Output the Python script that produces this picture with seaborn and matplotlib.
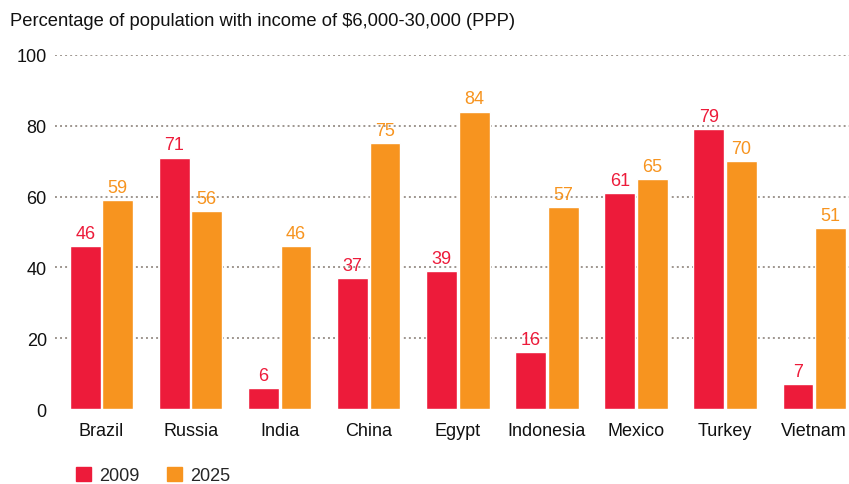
import pandas as pd
import matplotlib.pyplot as plt
import seaborn as sns

countries = ["Brazil", "Russia", "India", "China", "Egypt", "Indonesia", "Mexico", "Turkey", "Vietnam"]
share_2009 = [46, 71, 6, 37, 39, 16, 61, 79, 7]
share_2025 = [59, 56, 46, 75, 84, 57, 65, 70, 51]
years = ["2009", "2025"]
colors = {"2009": "#ED1B3A", "2025": "#F7941F"}

df = pd.DataFrame({
    "country": countries * 2,
    "year": ["2009"] * len(countries) + ["2025"] * len(countries),
    "share": share_2009 + share_2025,
})

sns.set_style("white")
plt.rcParams["font.family"] = ["Liberation Sans", "DejaVu Sans"]

fig = plt.figure(figsize=(8.49, 4.85), dpi=100)
ax = fig.add_axes([0.065, 0.1546, 0.935, 0.73])

sns.barplot(data=df, x="country", y="share", hue="year", hue_order=years,
            palette=colors, width=0.73, gap=0.05, saturation=1, ax=ax, legend=False)

for cont, yr in zip(ax.containers, years):
    ax.bar_label(cont, color=colors[yr], fontsize=13, padding=3)

ax.set_ylim(0, 100)
ax.set_xlim(-0.52, 8.39)
ax.set_yticks([0, 20, 40, 60, 80, 100])
for y in [20, 40, 60, 80, 100]:
    ax.axhline(y, color="#9e968f", linestyle=(0, (1, 1.6)), linewidth=1.4, zorder=0)
for s in ax.spines.values():
    s.set_visible(False)
ax.tick_params(axis="both", length=0, labelsize=13, colors="#111111")
ax.tick_params(axis="y", pad=6)
ax.tick_params(axis="x", pad=9)
ax.set_xlabel(None)
ax.set_ylabel(None)

fig.text(0.012, 0.955, "Percentage of population with income of $6,000-30,000 (PPP)",
         fontsize=13.2, color="#111111", va="center")

handles = [plt.Rectangle((0, 0), 1, 1, color=colors[y]) for y in years]
fig.legend(handles, years, loc="center left", bbox_to_anchor=(0.09, 0.0175), ncol=2,
           frameon=False, fontsize=13, handlelength=0.8, handleheight=0.8,
           handletextpad=0.45, columnspacing=1.55, borderpad=0, borderaxespad=0)

fig.savefig("out.png", dpi=100)
